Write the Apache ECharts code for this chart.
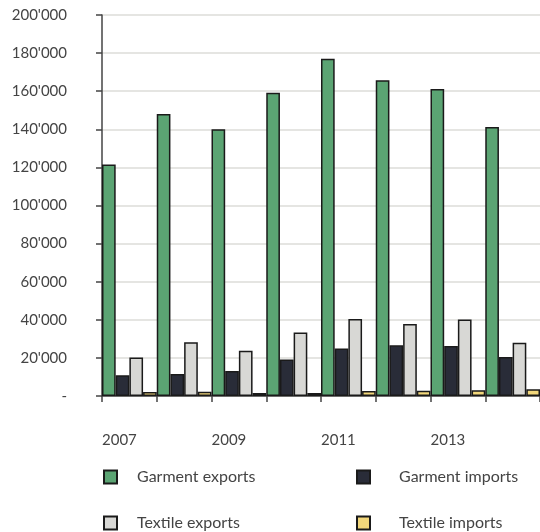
<!DOCTYPE html>
<html><head><meta charset="utf-8">
<script src="https://cdn.jsdelivr.net/npm/echarts@6/dist/echarts.min.js"></script>
<style>html,body{margin:0;padding:0;background:#fff}#c{width:540px;height:532px}</style>
</head><body><div id="c"></div>
<script>
const years = ['2007','2008','2009','2010','2011','2012','2013','2014'];
const garmentExports = [121500, 148000, 140000, 159200, 177000, 165800, 161200, 141200];
const garmentImports = [10900, 11500, 13100, 19100, 24900, 26600, 26200, 20500];
const textileExports = [20200, 28200, 23800, 33300, 40400, 37800, 40200, 28000];
const textileImports = [2100, 2200, 1600, 1600, 2600, 2800, 3000, 3600];
const seriesNames = ['Garment exports','Garment imports','Textile exports','Textile imports'];
const colors = ['#5ba473','#292c38','#d8d8d5','#f2d77b'];

const font = 'Lato, "Noto Sans", sans-serif';
const chart = echarts.init(document.getElementById('c'), null, {renderer:'canvas'});
const dataSets = [garmentExports, garmentImports, textileExports, textileImports];
const legendPos = [
  {left:98, top:464, pad:15},
  {left:351, top:464, pad:24},
  {left:98, top:510, pad:15},
  {left:351, top:510, pad:24}
];
chart.setOption({
  animation:false,
  grid:{left:102, top:15, right:-2, bottom:136, containLabel:false},
  legend: seriesNames.map((n,i)=>({
    data:[n], left:legendPos[i].left, top:legendPos[i].top,
    itemWidth:13, itemHeight:13, icon:'rect',
    textStyle:{fontFamily:font, fontSize:16, color:'#444', padding:[0,0,0,legendPos[i].pad]}
  })),
  xAxis:{
    type:'category', data:years, boundaryGap:true,
    axisLine:{lineStyle:{color:'#444', width:1.5}},
    axisTick:{show:true, interval:0, length:6, lineStyle:{color:'#444', width:1.5}},
    axisLabel:{interval:1, margin:37, fontFamily:font, fontSize:15, color:'#444', align:'center', padding:[0,20,0,0]}
  },
  yAxis:{
    type:'value', min:0, max:200000, interval:20000,
    axisLine:{show:true, lineStyle:{color:'#444', width:1.5}},
    axisTick:{show:true, length:6, lineStyle:{color:'#444', width:1.5}},
    splitLine:{lineStyle:{color:'#dcdcd8', width:1.5}},
    axisLabel:{margin:35, fontFamily:font, fontSize:15, color:'#444',
      formatter:v=> v===0 ? '-' : String(v).replace(/\B(?=(\d{3})+(?!\d))/g, "'")}
  },
  series: seriesNames.map((n,i)=>({
    name:n, type:'bar', data:dataSets[i], barGap:'0%', barCategoryGap:'0%',
    itemStyle:{color:colors[i], borderColor:'#1a1a1a', borderWidth:1.5}
  }))
});
</script></body></html>
